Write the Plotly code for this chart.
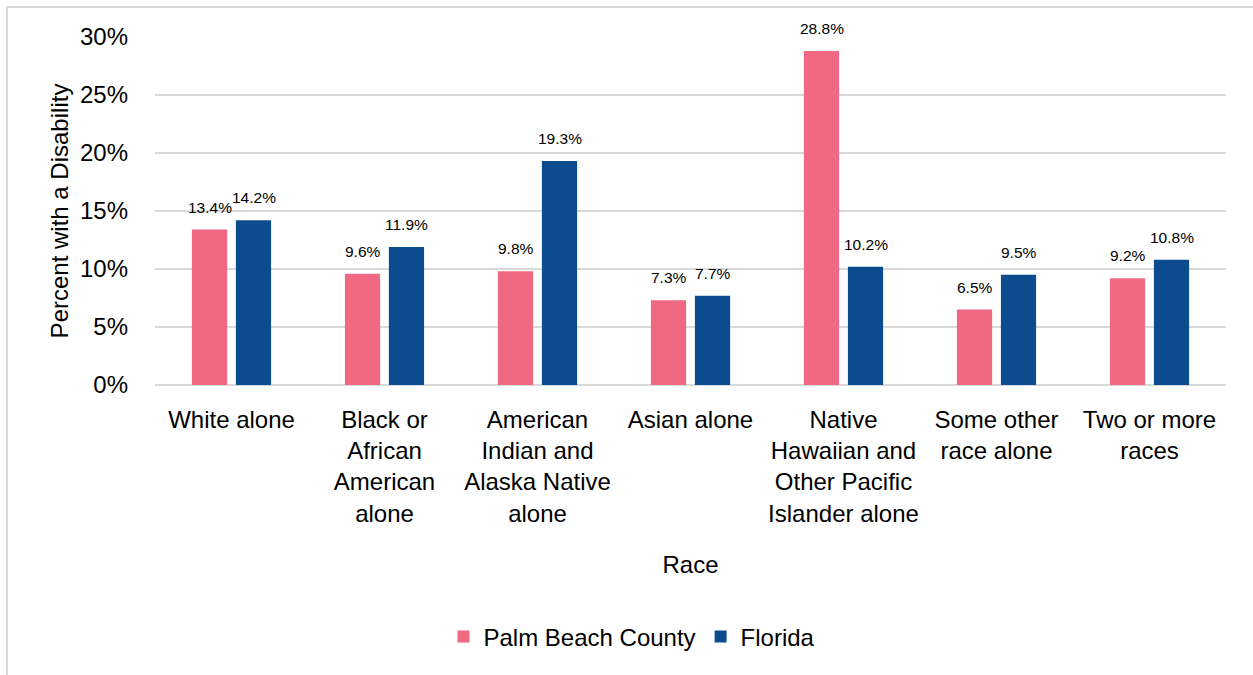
import plotly.graph_objects as go

categories = ["White alone", "Black or<br>African<br>American<br>alone",
              "American<br>Indian and<br>Alaska Native<br>alone", "Asian alone",
              "Native<br>Hawaiian and<br>Other Pacific<br>Islander alone",
              "Some other<br>race alone", "Two or more<br>races"]
palm_beach = [13.4, 9.6, 9.8, 7.3, 28.8, 6.5, 9.2]
florida = [14.2, 11.9, 19.3, 7.7, 10.2, 9.5, 10.8]
y_ticks = [0, 5, 10, 15, 20, 25, 30]
y_tick_labels = ["0%", "5%", "10%", "15%", "20%", "25%", "30%"]

FONT = "Liberation Sans, Arial, sans-serif"
PINK = "#F06882"
BLUE = "#0B4C8F"

W, H = 1253, 675
L, R, T, B = 155, 27, 37, 290
pw, ph = W - L - R, H - T - B

fig = go.Figure()
fig.add_trace(go.Bar(x=categories, y=palm_beach, name="Palm Beach County",
                     marker=dict(color=PINK, line=dict(width=0))))
fig.add_trace(go.Bar(x=categories, y=florida, name="Florida",
                     marker=dict(color=BLUE, line=dict(width=0))))

annotations = []
for vals, shift in ((palm_beach, -22), (florida, 22)):
    for c, v in zip(categories, vals):
        annotations.append(dict(x=c, y=v, xref="x", yref="y", text=f"{v:.1f}%",
                                showarrow=False, xshift=shift, yshift=12,
                                yanchor="bottom", xanchor="center",
                                font=dict(family=FONT, size=15.5, color="#000")))

def px_x(p):
    return (p - L) / pw

def px_y(p):
    return (H - B - p) / ph

shapes = [dict(type="rect", xref="paper", yref="paper",
               x0=px_x(7), x1=px_x(1262), y0=px_y(684), y1=px_y(7),
               line=dict(color="#d9d9d9", width=2), fillcolor="rgba(0,0,0,0)",
               layer="below")]

fig.update_layout(
    width=W, height=H,
    margin=dict(l=L, r=R, t=T, b=B, autoexpand=False),
    paper_bgcolor="white", plot_bgcolor="white",
    font=dict(family=FONT, size=24, color="#000"),
    barmode="group", bargap=0.425, bargroupgap=0.2,
    showlegend=True,
    legend=dict(orientation="h", x=px_x(632), xanchor="center",
                y=px_y(637), yanchor="middle",
                font=dict(family=FONT, size=24, color="#000"),
                traceorder="normal"),
    annotations=annotations,
    shapes=shapes,
    xaxis=dict(title=dict(text="Race", standoff=30,
                          font=dict(family=FONT, size=24)),
               tickfont=dict(family=FONT, size=24), showgrid=False,
               showline=False, ticks="", ticklabelstandoff=18,
               tickangle=0),
    yaxis=dict(title=dict(text="Percent with a Disability", standoff=4,
                          font=dict(family=FONT, size=24)),
               range=[0, 30], tickvals=y_ticks, ticktext=y_tick_labels,
               tickfont=dict(family=FONT, size=24),
               showgrid=True, gridcolor="#d9d9d9", gridwidth=1.5,
               zeroline=True, zerolinecolor="#d9d9d9", zerolinewidth=1.5,
               showline=False, ticks="", ticklabelstandoff=26,
               fixedrange=True),
)

fig.write_html("out.html", config={"displayModeBar": False},
               post_script="document.body.style.margin='0px';")
